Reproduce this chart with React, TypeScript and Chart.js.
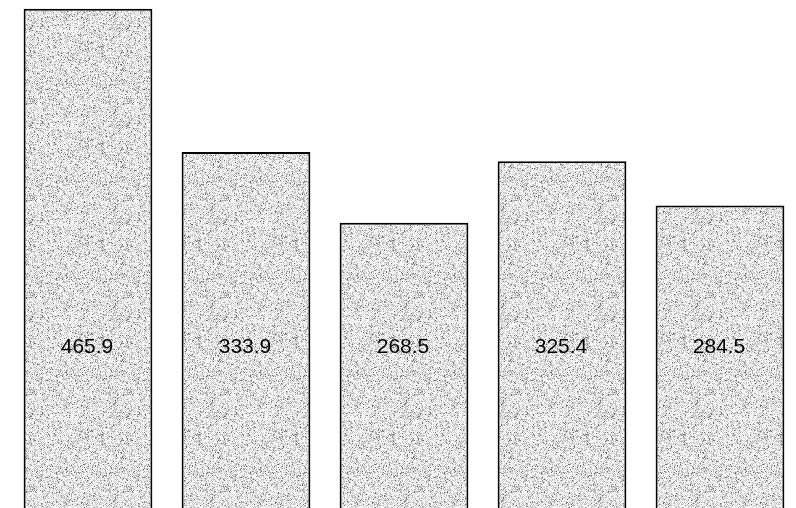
import React, { useEffect, useRef } from "react";
import { Chart, registerables } from "chart.js";

Chart.register(...registerables);

const categories: string[] = ["A", "B", "C", "D", "E"];
const values: number[] = [465.9, 333.9, 268.5, 325.4, 284.5];
const valueLabels: string[] = ["465.9", "333.9", "268.5", "325.4", "284.5"];

function makePattern(): CanvasPattern | string {
  const size = 97;
  const c = document.createElement("canvas");
  c.width = size;
  c.height = size;
  const ctx = c.getContext("2d");
  if (!ctx) return "#cccccc";
  const img = ctx.createImageData(size, size);
  for (let y = 0; y < size; y++) {
    for (let x = 0; x < size; x++) {
      let h = (x * 374761393 + y * 668265263) | 0;
      h = Math.imul(h ^ (h >>> 13), 1274126177);
      h = (h ^ (h >>> 16)) >>> 0;
      const r = h / 4294967296;
      const checker = (x + y) % 2 === 0;
      let g: number;
      if (r < 0.05) g = 110;
      else if (r < 0.2) g = 175;
      else if (r < 0.5) g = checker ? 200 : 228;
      else g = checker ? 238 : 255;
      const i = (y * size + x) * 4;
      img.data[i] = g;
      img.data[i + 1] = g;
      img.data[i + 2] = g;
      img.data[i + 3] = 255;
    }
  }
  ctx.putImageData(img, 0, 0);
  const p = ctx.createPattern(c, "repeat");
  return p || "#cccccc";
}

const labelPlugin = {
  id: "midLabels",
  afterDatasetsDraw(chart: any) {
    const { ctx, chartArea } = chart;
    const meta = chart.getDatasetMeta(0);
    const y = chartArea.top + (chartArea.bottom - chartArea.top) * 0.676;
    ctx.save();
    ctx.font = "21px 'Liberation Sans', Arial, sans-serif";
    ctx.fillStyle = "#000";
    ctx.textAlign = "center";
    ctx.textBaseline = "middle";
    meta.data.forEach((bar: any, i: number) => {
      ctx.fillText(valueLabels[i], bar.x - 1, y);
    });
    ctx.restore();
  },
};

export default function App() {
  const ref = useRef<HTMLCanvasElement | null>(null);
  useEffect(() => {
    if (!ref.current) return;
    const chart = new Chart(ref.current, {
      type: "bar",
      data: {
        labels: categories,
        datasets: [
          {
            data: values,
            backgroundColor: makePattern() as any,
            borderColor: "#000",
            borderWidth: 2,
            borderSkipped: false,
            barPercentage: 0.815,
            categoryPercentage: 1,
          },
        ],
      },
      options: {
        animation: false,
        responsive: false,
        maintainAspectRatio: false,
        layout: { padding: 0 },
        plugins: { legend: { display: false }, tooltip: { enabled: false } },
        scales: {
          x: { display: false },
          y: { display: false, min: 0, max: 474 },
        },
      },
      plugins: [labelPlugin],
    });
    return () => chart.destroy();
  }, []);
  return (
    <div style={{ position: "fixed", left: 9, top: 0, width: 790, height: 514, background: "#fff" }}>
      <canvas ref={ref} width={790} height={514} style={{ display: "block" }} />
    </div>
  );
}
